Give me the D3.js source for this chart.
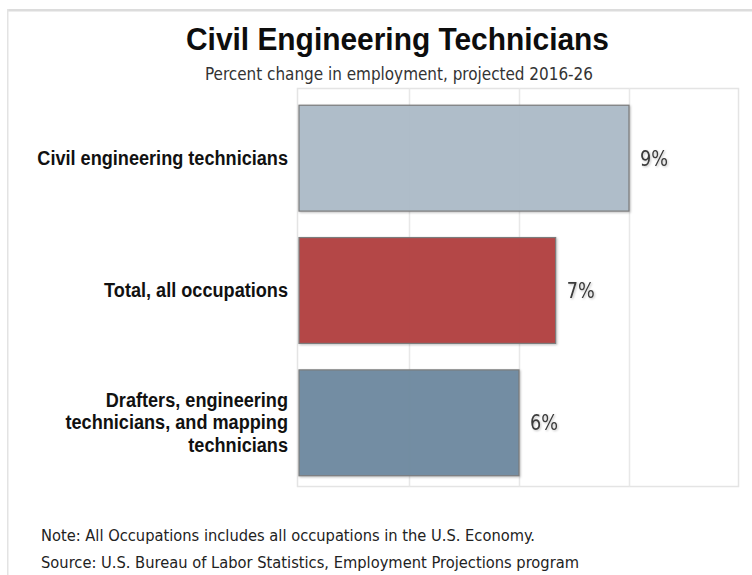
<!DOCTYPE html>
<html>
<head>
<meta charset="utf-8">
<script src="https://cdn.jsdelivr.net/npm/d3@7"></script>
<style>
  html, body { margin: 0; padding: 0; background: #fff; }
  svg { display: block; }
</style>
</head>
<body>
<svg id="chart" width="752" height="575"></svg>
<script>
// Projected employment change, 2016-26 (percent)
const categories = [
  ["Civil engineering technicians"],
  ["Total, all occupations"],
  ["Drafters, engineering", "technicians, and mapping", "technicians"]
];
const values = [9, 7, 6];
const barColors = ["#adbcc8", "#b34343", "#708ba1"];
const gridTicks = [0, 3, 6, 9, 12];
const titleText = "Civil Engineering Technicians";
const subtitleText = "Percent change in employment, projected 2016-26";
const notes = [
  "Note: All Occupations includes all occupations in the U.S. Economy.",
  "Source: U.S. Bureau of Labor Statistics, Employment Projections program"
];

const svg = d3.select("#chart");
const sans = "'Liberation Sans', Arial, sans-serif";
const tahomaLike = "'DejaVu Sans Condensed', 'DejaVu Sans', sans-serif";

// squeeze text horizontally so it spans exactly the given width
function squeeze(sel, target) {
  sel.attr("textLength", target).attr("lengthAdjust", "spacingAndGlyphs");
}

// card frame
svg.append("rect").attr("x", 7).attr("y", 9).attr("width", 745).attr("height", 2.5).attr("fill", "#dcdcdc");
svg.append("rect").attr("x", 7).attr("y", 9).attr("width", 1.5).attr("height", 566).attr("fill", "#e3e3e3");

// titles
const title = svg.append("text")
  .attr("x", 186).attr("y", 49.5)
  .attr("font-family", sans).attr("font-weight", "bold")
  .attr("font-size", 30.5).attr("fill", "#0d0d0d")
  .text(titleText);
squeeze(title, 423);

const subtitle = svg.append("text")
  .attr("x", 205).attr("y", 80)
  .attr("font-family", tahomaLike)
  .attr("font-size", 17.5).attr("fill", "#333")
  .text(subtitleText);
squeeze(subtitle, 388);

// plot area
const plot = { left: 297.5, right: 738.5, top: 88.5, bottom: 486.5 };

const x = d3.scaleLinear()
  .domain([0, 12])
  .range([299, 739]);

const y = d3.scaleBand()
  .domain(d3.range(values.length))
  .range([92, 489])
  .paddingInner(0.2)
  .paddingOuter(0.1);

// plot frame
svg.append("rect")
  .attr("x", plot.left).attr("y", plot.top)
  .attr("width", plot.right - plot.left).attr("height", plot.bottom - plot.top)
  .attr("fill", "#fff").attr("stroke", "#e4e4e4").attr("stroke-width", 1.5);

// vertical gridlines
svg.append("g").selectAll("line")
  .data(gridTicks.slice(1, -1))
  .join("line")
  .attr("x1", d => Math.round(x(d)) + 0.5).attr("x2", d => Math.round(x(d)) + 0.5)
  .attr("y1", plot.top).attr("y2", plot.bottom)
  .attr("stroke", "#e8e8e8").attr("stroke-width", 1.5);

// soft shadow used by bars and value labels
const defs = svg.append("defs");
const shadow = defs.append("filter").attr("id", "soft").attr("x", "-10%").attr("y", "-10%").attr("width", "130%").attr("height", "130%");
shadow.append("feDropShadow").attr("dx", 1).attr("dy", 1).attr("stdDeviation", 0.8).attr("flood-color", "#000").attr("flood-opacity", 0.25);

// bars
svg.append("g").selectAll("rect")
  .data(values)
  .join("rect")
  .attr("x", x(0))
  .attr("y", (d, i) => y(i))
  .attr("width", d => x(d) - x(0))
  .attr("height", y.bandwidth())
  .attr("fill", (d, i) => barColors[i])
  .attr("fill-opacity", 0.97)
  .attr("stroke", "#7b7b7b")
  .attr("stroke-width", 1.2)
  .attr("filter", "url(#soft)");

// value labels
svg.append("g").selectAll("text")
  .data(values)
  .join("text")
  .attr("x", d => x(d) + 11)
  .attr("y", (d, i) => y(i) + y.bandwidth() / 2)
  .attr("dy", "0.36em")
  .attr("font-family", tahomaLike)
  .attr("font-size", 20.5)
  .attr("fill", "#3a3a3a")
  .attr("filter", "url(#soft)")
  .attr("textLength", 28).attr("lengthAdjust", "spacingAndGlyphs")
  .text(d => d + "%");

// category labels, drawn slightly narrowed around their right edge
const lineH = 22.7;
svg.append("g")
  .attr("transform", "translate(288,0) scale(0.93,1)")
  .selectAll("text")
  .data(categories)
  .join("text")
  .attr("text-anchor", "end")
  .attr("font-family", sans).attr("font-weight", "bold")
  .attr("font-size", 19.5).attr("fill", "#111")
  .each(function (lines, i) {
    const cy = y(i) + y.bandwidth() / 2;
    const first = cy - (lines.length - 1) * lineH / 2;
    d3.select(this).selectAll("tspan")
      .data(lines)
      .join("tspan")
      .attr("x", 0)
      .attr("y", (d, j) => first + j * lineH)
      .attr("dy", "0.33em")
      .text(d => d);
  });

// footnotes
const noteY = [541, 568];
const noteW = [494, 538];
notes.forEach((t, i) => {
  const n = svg.append("text")
    .attr("x", 41).attr("y", noteY[i])
    .attr("font-family", tahomaLike)
    .attr("font-size", 16.5).attr("fill", "#222")
    .text(t);
  squeeze(n, noteW[i]);
});
</script>
</body>
</html>
